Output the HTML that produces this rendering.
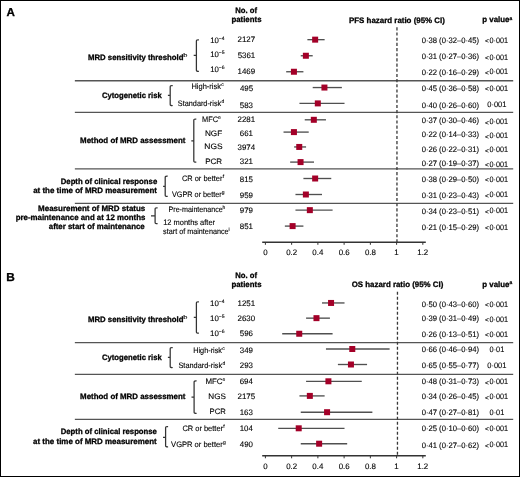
<!DOCTYPE html>
<html><head><meta charset="utf-8"><style>
html,body{margin:0;padding:0;background:#fff;}
body{width:520px;height:477px;overflow:hidden;}
svg{display:block;opacity:0.999;}
text{font-family:"Liberation Sans",sans-serif;font-kerning:none;text-rendering:geometricPrecision;}
</style></head><body>
<svg width="520" height="477" viewBox="0 0 520 477">
<defs><filter id="gs" x="0" y="0" width="100%" height="100%" filterUnits="userSpaceOnUse"><feColorMatrix type="saturate" values="0"/><feGaussianBlur stdDeviation="0.3"/></filter></defs>
<rect x="0.5" y="0.5" width="519" height="476" fill="#fff" stroke="#000" stroke-width="1"/>
<g stroke="#555" stroke-width="1.35">
<line x1="74.85" y1="80.77" x2="513.2" y2="80.77"/>
<line x1="74.85" y1="112.44" x2="513.2" y2="112.44"/>
<line x1="74.85" y1="168.93" x2="513.2" y2="168.93"/>
<line x1="74.85" y1="203.44" x2="513.2" y2="203.44"/>
<line x1="74.85" y1="342.63" x2="513.2" y2="342.63"/>
<line x1="74.85" y1="374.39" x2="513.2" y2="374.39"/>
<line x1="74.85" y1="419.44" x2="513.2" y2="419.44"/>
</g>
<g stroke="#333" stroke-width="1.25" fill="none">
<path d="M198.90 39.80 Q196.40 39.60 196.40 40.90 L196.40 70.20 Q196.40 71.50 198.90 71.30 M193.70 55.40 L196.40 55.40"/>
<path d="M172.70 85.60 Q170.20 85.40 170.20 86.70 L170.20 104.40 Q170.20 105.70 172.70 105.50 M167.90 95.40 L170.20 95.40"/>
<path d="M196.30 119.10 Q193.80 118.90 193.80 120.20 L193.80 161.10 Q193.80 162.40 196.30 162.20 M191.30 140.80 L193.80 140.80"/>
<path d="M167.70 176.20 Q165.20 176.00 165.20 177.30 L165.20 195.30 Q165.20 196.60 167.70 196.40 M163.10 186.40 L165.20 186.40"/>
<path d="M157.60 207.80 Q155.10 207.60 155.10 208.90 L155.10 222.60 Q155.10 223.90 157.60 223.70 M151.00 215.80 L155.10 215.80"/>
<path d="M198.90 301.80 Q196.40 301.60 196.40 302.90 L196.40 332.10 Q196.40 333.40 198.90 333.20 M193.80 317.40 L196.40 317.40"/>
<path d="M172.70 347.60 Q170.20 347.40 170.20 348.70 L170.20 366.40 Q170.20 367.70 172.70 367.50 M167.90 357.40 L170.20 357.40"/>
<path d="M196.60 380.90 Q194.10 380.70 194.10 382.00 L194.10 412.20 Q194.10 413.50 196.60 413.30 M191.50 397.10 L194.10 397.10"/>
<path d="M168.10 426.60 Q165.60 426.40 165.60 427.70 L165.60 445.70 Q165.60 447.00 168.10 446.80 M163.00 437.30 L165.60 437.30"/>
</g>
<g stroke="#383838" stroke-width="1.3">
<line x1="396.96" y1="27.35" x2="396.96" y2="242" stroke-dasharray="3.1 2.07"/>
<line x1="397.46" y1="291.8" x2="397.46" y2="455.7" stroke-dasharray="3 2"/>
</g>
<g stroke="#333" stroke-width="1.4">
<line x1="262.2" y1="242.20" x2="425.8" y2="242.20"/>
<line x1="265.40" y1="242.20" x2="265.40" y2="244.80" stroke-width="1"/>
<line x1="291.64" y1="242.20" x2="291.64" y2="244.80" stroke-width="1"/>
<line x1="317.88" y1="242.20" x2="317.88" y2="244.80" stroke-width="1"/>
<line x1="344.12" y1="242.20" x2="344.12" y2="244.80" stroke-width="1"/>
<line x1="370.36" y1="242.20" x2="370.36" y2="244.80" stroke-width="1"/>
<line x1="396.60" y1="242.20" x2="396.60" y2="244.80" stroke-width="1"/>
<line x1="422.84" y1="242.20" x2="422.84" y2="244.80" stroke-width="1"/>
<line x1="262.2" y1="455.70" x2="425.8" y2="455.70"/>
<line x1="265.40" y1="455.70" x2="265.40" y2="458.30" stroke-width="1"/>
<line x1="291.64" y1="455.70" x2="291.64" y2="458.30" stroke-width="1"/>
<line x1="317.88" y1="455.70" x2="317.88" y2="458.30" stroke-width="1"/>
<line x1="344.12" y1="455.70" x2="344.12" y2="458.30" stroke-width="1"/>
<line x1="370.36" y1="455.70" x2="370.36" y2="458.30" stroke-width="1"/>
<line x1="396.60" y1="455.70" x2="396.60" y2="458.30" stroke-width="1"/>
<line x1="422.84" y1="455.70" x2="422.84" y2="458.30" stroke-width="1"/>
</g>
<g stroke="#505050" stroke-width="1.35">
<line x1="307.39" y1="39.65" x2="324.63" y2="39.65"/>
<line x1="300.76" y1="55.75" x2="312.70" y2="55.75"/>
<line x1="286.18" y1="71.75" x2="303.41" y2="71.75"/>
<line x1="312.70" y1="87.55" x2="341.87" y2="87.55"/>
<line x1="299.44" y1="103.40" x2="344.52" y2="103.40"/>
<line x1="304.74" y1="119.80" x2="325.96" y2="119.80"/>
<line x1="283.52" y1="132.10" x2="308.72" y2="132.10"/>
<line x1="294.13" y1="146.95" x2="306.07" y2="146.95"/>
<line x1="290.15" y1="162.10" x2="314.02" y2="162.10"/>
<line x1="303.41" y1="178.50" x2="331.26" y2="178.50"/>
<line x1="295.46" y1="194.50" x2="321.98" y2="194.50"/>
<line x1="295.46" y1="210.15" x2="332.59" y2="210.15"/>
<line x1="284.85" y1="226.10" x2="303.41" y2="226.10"/>
<line x1="321.98" y1="302.95" x2="344.52" y2="302.95"/>
<line x1="306.07" y1="318.15" x2="329.93" y2="318.15"/>
<line x1="282.20" y1="333.75" x2="332.59" y2="333.75"/>
<line x1="325.96" y1="349.00" x2="389.60" y2="349.00"/>
<line x1="337.89" y1="364.50" x2="367.06" y2="364.50"/>
<line x1="306.07" y1="381.30" x2="361.76" y2="381.30"/>
<line x1="299.44" y1="395.90" x2="324.63" y2="395.90"/>
<line x1="300.76" y1="412.20" x2="372.37" y2="412.20"/>
<line x1="278.22" y1="428.30" x2="344.52" y2="428.30"/>
<line x1="300.76" y1="443.70" x2="347.17" y2="443.70"/>
</g>
<g fill="#a30028">
<rect x="312.15" y="36.65" width="6.0" height="6.0"/>
<rect x="302.87" y="52.75" width="6.0" height="6.0"/>
<rect x="290.93" y="68.75" width="6.0" height="6.0"/>
<rect x="321.43" y="84.55" width="6.0" height="6.0"/>
<rect x="314.80" y="100.40" width="6.0" height="6.0"/>
<rect x="310.82" y="116.80" width="6.0" height="6.0"/>
<rect x="290.93" y="129.10" width="6.0" height="6.0"/>
<rect x="296.24" y="143.95" width="6.0" height="6.0"/>
<rect x="297.56" y="159.10" width="6.0" height="6.0"/>
<rect x="312.15" y="175.50" width="6.0" height="6.0"/>
<rect x="302.87" y="191.50" width="6.0" height="6.0"/>
<rect x="306.84" y="207.15" width="6.0" height="6.0"/>
<rect x="289.61" y="223.10" width="6.0" height="6.0"/>
<rect x="328.06" y="299.95" width="6.0" height="6.0"/>
<rect x="313.47" y="315.15" width="6.0" height="6.0"/>
<rect x="296.24" y="330.75" width="6.0" height="6.0"/>
<rect x="349.28" y="346.00" width="6.0" height="6.0"/>
<rect x="347.95" y="361.50" width="6.0" height="6.0"/>
<rect x="325.41" y="378.30" width="6.0" height="6.0"/>
<rect x="306.84" y="392.90" width="6.0" height="6.0"/>
<rect x="324.08" y="409.20" width="6.0" height="6.0"/>
<rect x="295.71" y="425.30" width="6.0" height="6.0"/>
<rect x="316.13" y="440.70" width="6.0" height="6.0"/>
</g>
<g fill="#000" filter="url(#gs)">
<text x="237.59" y="42.10" font-size="7.90" stroke="#000" stroke-width="0.12">2127</text>
<text x="421.66" y="43.20" font-size="7.90" stroke="#000" stroke-width="0.12" textLength="57.44" lengthAdjust="spacingAndGlyphs">0·38 (0·32–0·45)</text>
<text x="484.99" y="43.30" font-size="6.60" stroke="#000" stroke-width="0.12">&lt;</text>
<text x="489.47" y="43.00" font-size="7.90" stroke="#000" stroke-width="0.12" textLength="18.52" lengthAdjust="spacingAndGlyphs">0·001</text>
<text x="237.65" y="58.20" font-size="7.90" stroke="#000" stroke-width="0.12">5361</text>
<text x="421.66" y="59.10" font-size="7.90" stroke="#000" stroke-width="0.12" textLength="57.44" lengthAdjust="spacingAndGlyphs">0·31 (0·27–0·36)</text>
<text x="484.99" y="60.30" font-size="6.60" stroke="#000" stroke-width="0.12">&lt;</text>
<text x="489.47" y="60.00" font-size="7.90" stroke="#000" stroke-width="0.12" textLength="18.52" lengthAdjust="spacingAndGlyphs">0·001</text>
<text x="237.53" y="73.70" font-size="7.90" stroke="#000" stroke-width="0.12">1469</text>
<text x="421.66" y="74.60" font-size="7.90" stroke="#000" stroke-width="0.12" textLength="57.44" lengthAdjust="spacingAndGlyphs">0·22 (0·16–0·29)</text>
<text x="484.99" y="74.50" font-size="6.60" stroke="#000" stroke-width="0.12">&lt;</text>
<text x="489.47" y="74.20" font-size="7.90" stroke="#000" stroke-width="0.12" textLength="18.52" lengthAdjust="spacingAndGlyphs">0·001</text>
<text x="239.91" y="90.90" font-size="7.90" stroke="#000" stroke-width="0.12">495</text>
<text x="421.66" y="91.40" font-size="7.90" stroke="#000" stroke-width="0.12" textLength="57.44" lengthAdjust="spacingAndGlyphs">0·45 (0·36–0·58)</text>
<text x="484.99" y="91.00" font-size="6.60" stroke="#000" stroke-width="0.12">&lt;</text>
<text x="489.47" y="90.70" font-size="7.90" stroke="#000" stroke-width="0.12" textLength="18.52" lengthAdjust="spacingAndGlyphs">0·001</text>
<text x="239.85" y="107.70" font-size="7.90" stroke="#000" stroke-width="0.12">583</text>
<text x="421.66" y="107.50" font-size="7.90" stroke="#000" stroke-width="0.12" textLength="57.44" lengthAdjust="spacingAndGlyphs">0·40 (0·26–0·60)</text>
<text x="487.26" y="107.20" font-size="7.90" stroke="#000" stroke-width="0.12" textLength="19.24" lengthAdjust="spacingAndGlyphs">0·001</text>
<text x="237.59" y="121.70" font-size="7.90" stroke="#000" stroke-width="0.12">2281</text>
<text x="421.66" y="123.20" font-size="7.90" stroke="#000" stroke-width="0.12" textLength="57.44" lengthAdjust="spacingAndGlyphs">0·37 (0·30–0·46)</text>
<text x="484.99" y="124.50" font-size="6.60" stroke="#000" stroke-width="0.12">&lt;</text>
<text x="489.47" y="124.20" font-size="7.90" stroke="#000" stroke-width="0.12" textLength="18.52" lengthAdjust="spacingAndGlyphs">0·001</text>
<text x="239.78" y="136.00" font-size="7.90" stroke="#000" stroke-width="0.12">661</text>
<text x="421.66" y="137.10" font-size="7.90" stroke="#000" stroke-width="0.12" textLength="57.44" lengthAdjust="spacingAndGlyphs">0·22 (0·14–0·33)</text>
<text x="484.99" y="138.50" font-size="6.60" stroke="#000" stroke-width="0.12">&lt;</text>
<text x="489.47" y="138.20" font-size="7.90" stroke="#000" stroke-width="0.12" textLength="18.52" lengthAdjust="spacingAndGlyphs">0·001</text>
<text x="237.59" y="150.00" font-size="7.90" stroke="#000" stroke-width="0.12">3974</text>
<text x="421.66" y="151.70" font-size="7.90" stroke="#000" stroke-width="0.12" textLength="57.44" lengthAdjust="spacingAndGlyphs">0·26 (0·22–0·31)</text>
<text x="484.99" y="152.60" font-size="6.60" stroke="#000" stroke-width="0.12">&lt;</text>
<text x="489.47" y="152.30" font-size="7.90" stroke="#000" stroke-width="0.12" textLength="18.52" lengthAdjust="spacingAndGlyphs">0·001</text>
<text x="239.85" y="164.40" font-size="7.90" stroke="#000" stroke-width="0.12">321</text>
<text x="421.66" y="165.80" font-size="7.90" stroke="#000" stroke-width="0.12" textLength="57.44" lengthAdjust="spacingAndGlyphs">0·27 (0·19–0·37)</text>
<text x="484.99" y="166.80" font-size="6.60" stroke="#000" stroke-width="0.12">&lt;</text>
<text x="489.47" y="166.50" font-size="7.90" stroke="#000" stroke-width="0.12" textLength="18.52" lengthAdjust="spacingAndGlyphs">0·001</text>
<text x="239.85" y="181.80" font-size="7.90" stroke="#000" stroke-width="0.12">815</text>
<text x="421.66" y="182.40" font-size="7.90" stroke="#000" stroke-width="0.12" textLength="57.44" lengthAdjust="spacingAndGlyphs">0·38 (0·29–0·50)</text>
<text x="484.99" y="182.30" font-size="6.60" stroke="#000" stroke-width="0.12">&lt;</text>
<text x="489.47" y="182.00" font-size="7.90" stroke="#000" stroke-width="0.12" textLength="18.52" lengthAdjust="spacingAndGlyphs">0·001</text>
<text x="239.78" y="197.50" font-size="7.90" stroke="#000" stroke-width="0.12">959</text>
<text x="421.66" y="197.90" font-size="7.90" stroke="#000" stroke-width="0.12" textLength="57.44" lengthAdjust="spacingAndGlyphs">0·31 (0·23–0·43)</text>
<text x="484.99" y="197.60" font-size="6.60" stroke="#000" stroke-width="0.12">&lt;</text>
<text x="489.47" y="197.30" font-size="7.90" stroke="#000" stroke-width="0.12" textLength="18.52" lengthAdjust="spacingAndGlyphs">0·001</text>
<text x="239.78" y="213.20" font-size="7.90" stroke="#000" stroke-width="0.12">979</text>
<text x="421.66" y="213.90" font-size="7.90" stroke="#000" stroke-width="0.12" textLength="57.44" lengthAdjust="spacingAndGlyphs">0·34 (0·23–0·51)</text>
<text x="484.99" y="213.50" font-size="6.60" stroke="#000" stroke-width="0.12">&lt;</text>
<text x="489.47" y="213.20" font-size="7.90" stroke="#000" stroke-width="0.12" textLength="18.52" lengthAdjust="spacingAndGlyphs">0·001</text>
<text x="239.85" y="229.00" font-size="7.90" stroke="#000" stroke-width="0.12">851</text>
<text x="421.66" y="229.70" font-size="7.90" stroke="#000" stroke-width="0.12" textLength="57.44" lengthAdjust="spacingAndGlyphs">0·21 (0·15–0·29)</text>
<text x="484.99" y="230.00" font-size="6.60" stroke="#000" stroke-width="0.12">&lt;</text>
<text x="489.47" y="229.70" font-size="7.90" stroke="#000" stroke-width="0.12" textLength="18.52" lengthAdjust="spacingAndGlyphs">0·001</text>
<text x="210.21" y="43.00" font-size="7.90" stroke="#000" stroke-width="0.12" textLength="8.68" lengthAdjust="spacingAndGlyphs">10</text>
<text x="218.86" y="39.70" font-size="5.00" stroke="#000" stroke-width="0.12">−4</text>
<text x="210.21" y="57.40" font-size="7.90" stroke="#000" stroke-width="0.12" textLength="8.68" lengthAdjust="spacingAndGlyphs">10</text>
<text x="218.86" y="54.10" font-size="5.00" stroke="#000" stroke-width="0.12">−5</text>
<text x="210.21" y="72.30" font-size="7.90" stroke="#000" stroke-width="0.12" textLength="8.68" lengthAdjust="spacingAndGlyphs">10</text>
<text x="218.86" y="69.00" font-size="5.00" stroke="#000" stroke-width="0.12">−6</text>
<text x="191.41" y="88.80" font-size="7.90" stroke="#000" stroke-width="0.12" textLength="29.57" lengthAdjust="spacingAndGlyphs">High-risk</text>
<text x="221.30" y="85.90" font-size="5.00" stroke="#000" stroke-width="0.12">c</text>
<text x="177.87" y="105.50" font-size="7.90" stroke="#000" stroke-width="0.12" textLength="43.31" lengthAdjust="spacingAndGlyphs">Standard-risk</text>
<text x="221.50" y="102.60" font-size="5.00" stroke="#000" stroke-width="0.12">d</text>
<text x="202.12" y="121.60" font-size="7.90" stroke="#000" stroke-width="0.12" textLength="16.04" lengthAdjust="spacingAndGlyphs">MFC</text>
<text x="218.10" y="118.70" font-size="5.00" stroke="#000" stroke-width="0.12">e</text>
<text x="204.96" y="136.00" font-size="7.90" stroke="#000" stroke-width="0.12" textLength="17.31" lengthAdjust="spacingAndGlyphs">NGF</text>
<text x="204.34" y="149.40" font-size="7.90" stroke="#000" stroke-width="0.12" textLength="18.32" lengthAdjust="spacingAndGlyphs">NGS</text>
<text x="205.17" y="163.90" font-size="7.90" stroke="#000" stroke-width="0.12" textLength="16.90" lengthAdjust="spacingAndGlyphs">PCR</text>
<text x="181.95" y="181.00" font-size="7.90" stroke="#000" stroke-width="0.12" textLength="40.48" lengthAdjust="spacingAndGlyphs">CR or better</text>
<text x="222.74" y="178.10" font-size="5.00" stroke="#000" stroke-width="0.12">f</text>
<text x="172.00" y="197.00" font-size="7.90" stroke="#000" stroke-width="0.12" textLength="49.64" lengthAdjust="spacingAndGlyphs">VGPR or better</text>
<text x="221.80" y="194.10" font-size="5.00" stroke="#000" stroke-width="0.12">g</text>
<text x="168.54" y="211.90" font-size="7.90" stroke="#000" stroke-width="0.12" textLength="54.14" lengthAdjust="spacingAndGlyphs">Pre-maintenance</text>
<text x="222.46" y="209.00" font-size="5.00" stroke="#000" stroke-width="0.12">h</text>
<text x="163.23" y="224.70" font-size="7.90" stroke="#000" stroke-width="0.12" textLength="51.80" lengthAdjust="spacingAndGlyphs">12 months after</text>
<text x="163.09" y="233.60" font-size="7.90" stroke="#000" stroke-width="0.12" textLength="65.51" lengthAdjust="spacingAndGlyphs">start of maintenance</text>
<text x="228.38" y="230.70" font-size="5.00" stroke="#000" stroke-width="0.12">i</text>
<text x="237.53" y="306.30" font-size="7.90" stroke="#000" stroke-width="0.12">1251</text>
<text x="421.66" y="306.60" font-size="7.90" stroke="#000" stroke-width="0.12" textLength="57.44" lengthAdjust="spacingAndGlyphs">0·50 (0·43–0·60)</text>
<text x="484.99" y="306.90" font-size="6.60" stroke="#000" stroke-width="0.12">&lt;</text>
<text x="489.47" y="306.60" font-size="7.90" stroke="#000" stroke-width="0.12" textLength="18.52" lengthAdjust="spacingAndGlyphs">0·001</text>
<text x="237.53" y="321.40" font-size="7.90" stroke="#000" stroke-width="0.12">2630</text>
<text x="421.66" y="321.40" font-size="7.90" stroke="#000" stroke-width="0.12" textLength="57.44" lengthAdjust="spacingAndGlyphs">0·39 (0·31–0·49)</text>
<text x="484.99" y="322.00" font-size="6.60" stroke="#000" stroke-width="0.12">&lt;</text>
<text x="489.47" y="321.70" font-size="7.90" stroke="#000" stroke-width="0.12" textLength="18.52" lengthAdjust="spacingAndGlyphs">0·001</text>
<text x="239.85" y="336.40" font-size="7.90" stroke="#000" stroke-width="0.12">596</text>
<text x="421.66" y="336.60" font-size="7.90" stroke="#000" stroke-width="0.12" textLength="57.44" lengthAdjust="spacingAndGlyphs">0·26 (0·13–0·51)</text>
<text x="484.99" y="337.10" font-size="6.60" stroke="#000" stroke-width="0.12">&lt;</text>
<text x="489.47" y="336.80" font-size="7.90" stroke="#000" stroke-width="0.12" textLength="18.52" lengthAdjust="spacingAndGlyphs">0·001</text>
<text x="239.85" y="352.60" font-size="7.90" stroke="#000" stroke-width="0.12">349</text>
<text x="421.66" y="352.40" font-size="7.90" stroke="#000" stroke-width="0.12" textLength="57.44" lengthAdjust="spacingAndGlyphs">0·66 (0·46–0·94)</text>
<text x="489.57" y="352.40" font-size="7.90" stroke="#000" stroke-width="0.12" textLength="14.73" lengthAdjust="spacingAndGlyphs">0·01</text>
<text x="239.78" y="368.30" font-size="7.90" stroke="#000" stroke-width="0.12">293</text>
<text x="421.66" y="368.20" font-size="7.90" stroke="#000" stroke-width="0.12" textLength="57.44" lengthAdjust="spacingAndGlyphs">0·65 (0·55–0·77)</text>
<text x="487.26" y="368.20" font-size="7.90" stroke="#000" stroke-width="0.12" textLength="19.24" lengthAdjust="spacingAndGlyphs">0·001</text>
<text x="239.72" y="384.20" font-size="7.90" stroke="#000" stroke-width="0.12">694</text>
<text x="421.66" y="384.30" font-size="7.90" stroke="#000" stroke-width="0.12" textLength="57.44" lengthAdjust="spacingAndGlyphs">0·48 (0·31–0·73)</text>
<text x="484.99" y="384.60" font-size="6.60" stroke="#000" stroke-width="0.12">&lt;</text>
<text x="489.47" y="384.30" font-size="7.90" stroke="#000" stroke-width="0.12" textLength="18.52" lengthAdjust="spacingAndGlyphs">0·001</text>
<text x="237.59" y="399.10" font-size="7.90" stroke="#000" stroke-width="0.12">2175</text>
<text x="421.66" y="399.10" font-size="7.90" stroke="#000" stroke-width="0.12" textLength="57.44" lengthAdjust="spacingAndGlyphs">0·34 (0·26–0·45)</text>
<text x="484.99" y="399.70" font-size="6.60" stroke="#000" stroke-width="0.12">&lt;</text>
<text x="489.47" y="399.40" font-size="7.90" stroke="#000" stroke-width="0.12" textLength="18.52" lengthAdjust="spacingAndGlyphs">0·001</text>
<text x="239.72" y="414.50" font-size="7.90" stroke="#000" stroke-width="0.12">163</text>
<text x="421.66" y="414.60" font-size="7.90" stroke="#000" stroke-width="0.12" textLength="57.44" lengthAdjust="spacingAndGlyphs">0·47 (0·27–0·81)</text>
<text x="489.57" y="414.80" font-size="7.90" stroke="#000" stroke-width="0.12" textLength="14.73" lengthAdjust="spacingAndGlyphs">0·01</text>
<text x="239.66" y="430.90" font-size="7.90" stroke="#000" stroke-width="0.12">104</text>
<text x="421.66" y="431.10" font-size="7.90" stroke="#000" stroke-width="0.12" textLength="57.44" lengthAdjust="spacingAndGlyphs">0·25 (0·10–0·60)</text>
<text x="484.99" y="431.00" font-size="6.60" stroke="#000" stroke-width="0.12">&lt;</text>
<text x="489.47" y="430.70" font-size="7.90" stroke="#000" stroke-width="0.12" textLength="18.52" lengthAdjust="spacingAndGlyphs">0·001</text>
<text x="239.85" y="447.00" font-size="7.90" stroke="#000" stroke-width="0.12">490</text>
<text x="421.66" y="447.50" font-size="7.90" stroke="#000" stroke-width="0.12" textLength="57.44" lengthAdjust="spacingAndGlyphs">0·41 (0·27–0·62)</text>
<text x="484.99" y="447.50" font-size="6.60" stroke="#000" stroke-width="0.12">&lt;</text>
<text x="489.47" y="447.20" font-size="7.90" stroke="#000" stroke-width="0.12" textLength="18.52" lengthAdjust="spacingAndGlyphs">0·001</text>
<text x="210.11" y="306.40" font-size="7.90" stroke="#000" stroke-width="0.12" textLength="8.79" lengthAdjust="spacingAndGlyphs">10</text>
<text x="218.86" y="303.10" font-size="5.00" stroke="#000" stroke-width="0.12">−4</text>
<text x="210.11" y="321.10" font-size="7.90" stroke="#000" stroke-width="0.12" textLength="8.79" lengthAdjust="spacingAndGlyphs">10</text>
<text x="218.86" y="317.80" font-size="5.00" stroke="#000" stroke-width="0.12">−5</text>
<text x="210.11" y="336.30" font-size="7.90" stroke="#000" stroke-width="0.12" textLength="8.79" lengthAdjust="spacingAndGlyphs">10</text>
<text x="218.86" y="333.00" font-size="5.00" stroke="#000" stroke-width="0.12">−6</text>
<text x="193.23" y="352.60" font-size="7.90" stroke="#000" stroke-width="0.12" textLength="28.76" lengthAdjust="spacingAndGlyphs">High-risk</text>
<text x="222.30" y="349.70" font-size="5.00" stroke="#000" stroke-width="0.12">c</text>
<text x="178.47" y="368.10" font-size="7.90" stroke="#000" stroke-width="0.12" textLength="43.71" lengthAdjust="spacingAndGlyphs">Standard-risk</text>
<text x="222.50" y="365.20" font-size="5.00" stroke="#000" stroke-width="0.12">d</text>
<text x="205.48" y="384.10" font-size="7.90" stroke="#000" stroke-width="0.12" textLength="17.09" lengthAdjust="spacingAndGlyphs">MFC</text>
<text x="222.50" y="381.20" font-size="5.00" stroke="#000" stroke-width="0.12">e</text>
<text x="208.37" y="398.90" font-size="7.90" stroke="#000" stroke-width="0.12" textLength="17.57" lengthAdjust="spacingAndGlyphs">NGS</text>
<text x="209.60" y="414.10" font-size="7.90" stroke="#000" stroke-width="0.12" textLength="16.27" lengthAdjust="spacingAndGlyphs">PCR</text>
<text x="182.45" y="431.10" font-size="7.90" stroke="#000" stroke-width="0.12" textLength="40.59" lengthAdjust="spacingAndGlyphs">CR or better</text>
<text x="223.34" y="428.20" font-size="5.00" stroke="#000" stroke-width="0.12">f</text>
<text x="171.10" y="447.00" font-size="7.90" stroke="#000" stroke-width="0.12" textLength="51.64" lengthAdjust="spacingAndGlyphs">VGPR or better</text>
<text x="222.90" y="444.10" font-size="5.00" stroke="#000" stroke-width="0.12">g</text>
<text x="235.32" y="13.20" font-size="7.90" font-weight="bold" stroke="#000" stroke-width="0.28" textLength="21.80" lengthAdjust="spacingAndGlyphs">No. of</text>
<text x="231.41" y="22.00" font-size="7.90" font-weight="bold" stroke="#000" stroke-width="0.28" textLength="30.11" lengthAdjust="spacingAndGlyphs">patients</text>
<text x="349.01" y="22.60" font-size="7.90" font-weight="bold" stroke="#000" stroke-width="0.28" textLength="95.88" lengthAdjust="spacingAndGlyphs">PFS hazard ratio (95% CI)</text>
<text x="482.31" y="22.30" font-size="7.90" font-weight="bold" stroke="#000" stroke-width="0.28" textLength="27.09" lengthAdjust="spacingAndGlyphs">p value</text>
<text x="509.56" y="19.50" font-size="4.90" font-weight="bold" stroke="#000" stroke-width="0.28">a</text>
<text x="235.32" y="278.00" font-size="7.90" font-weight="bold" stroke="#000" stroke-width="0.28" textLength="21.80" lengthAdjust="spacingAndGlyphs">No. of</text>
<text x="231.41" y="286.80" font-size="7.90" font-weight="bold" stroke="#000" stroke-width="0.28" textLength="30.11" lengthAdjust="spacingAndGlyphs">patients</text>
<text x="351.65" y="287.10" font-size="7.90" font-weight="bold" stroke="#000" stroke-width="0.28" textLength="91.73" lengthAdjust="spacingAndGlyphs">OS hazard ratio (95% CI)</text>
<text x="482.31" y="286.80" font-size="7.90" font-weight="bold" stroke="#000" stroke-width="0.28" textLength="27.09" lengthAdjust="spacingAndGlyphs">p value</text>
<text x="509.56" y="284.00" font-size="4.90" font-weight="bold" stroke="#000" stroke-width="0.28">a</text>
<text x="6.52" y="16.20" font-size="11.50" font-weight="bold" stroke="#000" stroke-width="0.28" textLength="8.40" lengthAdjust="spacingAndGlyphs">A</text>
<text x="6.26" y="280.80" font-size="11.50" font-weight="bold" stroke="#000" stroke-width="0.28" textLength="8.55" lengthAdjust="spacingAndGlyphs">B</text>
<text x="88.01" y="59.50" font-size="7.90" font-weight="bold" stroke="#000" stroke-width="0.28" textLength="95.38" lengthAdjust="spacingAndGlyphs">MRD sensitivity threshold</text>
<text x="183.33" y="56.90" font-size="5.40" stroke="#000" stroke-width="0.12" textLength="4.17" lengthAdjust="spacingAndGlyphs">b</text>
<text x="101.96" y="98.20" font-size="7.90" font-weight="bold" stroke="#000" stroke-width="0.28" textLength="59.79" lengthAdjust="spacingAndGlyphs">Cytogenetic risk</text>
<text x="80.11" y="142.80" font-size="7.90" font-weight="bold" stroke="#000" stroke-width="0.28" textLength="105.33" lengthAdjust="spacingAndGlyphs">Method of MRD assessment</text>
<text x="60.72" y="183.80" font-size="7.90" font-weight="bold" stroke="#000" stroke-width="0.28" textLength="96.48" lengthAdjust="spacingAndGlyphs">Depth of clinical response</text>
<text x="33.18" y="192.80" font-size="7.90" font-weight="bold" stroke="#000" stroke-width="0.28" textLength="123.86" lengthAdjust="spacingAndGlyphs">at the time of MRD measurement</text>
<text x="38.10" y="211.10" font-size="7.90" font-weight="bold" stroke="#000" stroke-width="0.28" textLength="107.22" lengthAdjust="spacingAndGlyphs">Measurement of MRD status</text>
<text x="15.71" y="220.30" font-size="7.90" font-weight="bold" stroke="#000" stroke-width="0.28" textLength="129.61" lengthAdjust="spacingAndGlyphs">pre-maintenance and at 12 months</text>
<text x="48.78" y="229.40" font-size="7.90" font-weight="bold" stroke="#000" stroke-width="0.28" textLength="95.92" lengthAdjust="spacingAndGlyphs">after start of maintenance</text>
<text x="88.01" y="321.50" font-size="7.90" font-weight="bold" stroke="#000" stroke-width="0.28" textLength="95.38" lengthAdjust="spacingAndGlyphs">MRD sensitivity threshold</text>
<text x="183.33" y="318.90" font-size="5.40" stroke="#000" stroke-width="0.12" textLength="4.17" lengthAdjust="spacingAndGlyphs">b</text>
<text x="101.96" y="360.20" font-size="7.90" font-weight="bold" stroke="#000" stroke-width="0.28" textLength="59.79" lengthAdjust="spacingAndGlyphs">Cytogenetic risk</text>
<text x="80.11" y="399.20" font-size="7.90" font-weight="bold" stroke="#000" stroke-width="0.28" textLength="105.33" lengthAdjust="spacingAndGlyphs">Method of MRD assessment</text>
<text x="60.72" y="434.40" font-size="7.90" font-weight="bold" stroke="#000" stroke-width="0.28" textLength="96.18" lengthAdjust="spacingAndGlyphs">Depth of clinical response</text>
<text x="33.08" y="443.50" font-size="7.90" font-weight="bold" stroke="#000" stroke-width="0.28" textLength="123.66" lengthAdjust="spacingAndGlyphs">at the time of MRD measurement</text>
<text x="263.18" y="254.50" font-size="7.90" stroke="#000" stroke-width="0.12">0</text>
<text x="286.19" y="254.50" font-size="7.90" stroke="#000" stroke-width="0.12">0.2</text>
<text x="312.36" y="254.50" font-size="7.90" stroke="#000" stroke-width="0.12">0.4</text>
<text x="338.67" y="254.50" font-size="7.90" stroke="#000" stroke-width="0.12">0.6</text>
<text x="364.91" y="254.50" font-size="7.90" stroke="#000" stroke-width="0.12">0.8</text>
<text x="394.32" y="254.50" font-size="7.90" stroke="#000" stroke-width="0.12">1</text>
<text x="417.26" y="254.50" font-size="7.90" stroke="#000" stroke-width="0.12">1.2</text>
<text x="263.18" y="468.70" font-size="7.90" stroke="#000" stroke-width="0.12">0</text>
<text x="286.19" y="468.70" font-size="7.90" stroke="#000" stroke-width="0.12">0.2</text>
<text x="312.36" y="468.70" font-size="7.90" stroke="#000" stroke-width="0.12">0.4</text>
<text x="338.67" y="468.70" font-size="7.90" stroke="#000" stroke-width="0.12">0.6</text>
<text x="364.91" y="468.70" font-size="7.90" stroke="#000" stroke-width="0.12">0.8</text>
<text x="394.32" y="468.70" font-size="7.90" stroke="#000" stroke-width="0.12">1</text>
<text x="417.26" y="468.70" font-size="7.90" stroke="#000" stroke-width="0.12">1.2</text>
</g>
</svg>
</body></html>
